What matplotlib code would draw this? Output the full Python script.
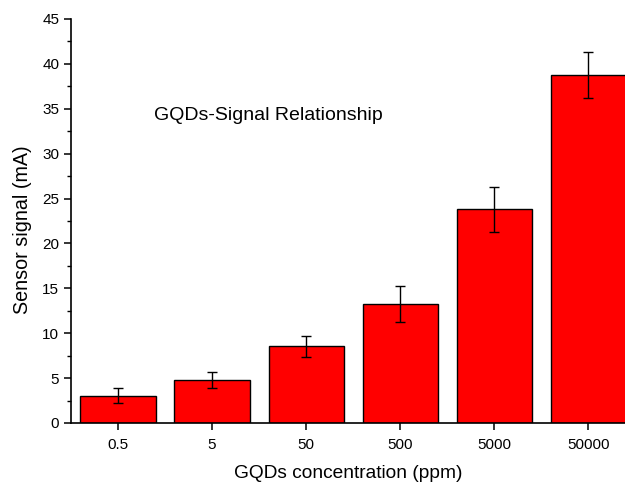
import numpy as np
import matplotlib
matplotlib.use('Agg')
import matplotlib.pyplot as plt
from matplotlib.ticker import MultipleLocator

plt.rcParams['font.family'] = ['Liberation Sans', 'DejaVu Sans']

# Data
concentrations = ['0.5', '5', '50', '500', '5000', '50000']
signal = [3.05, 4.79, 8.54, 13.25, 23.8, 38.75]
signal_err = [0.87, 0.91, 1.2, 2.02, 2.5, 2.54]

fig = plt.figure(figsize=(6.25, 4.88), dpi=100)
ax = fig.add_axes([0.1136, 0.1332, 0.8864, 0.828])

x = np.arange(len(concentrations))
ax.bar(x, signal, width=0.8, color='#ff0000', edgecolor='black', linewidth=1.0,
       yerr=signal_err, error_kw=dict(ecolor='black', elinewidth=1.0, capsize=3.5, capthick=1.0))

ax.set_xlim(-0.5, 5.39)
ax.set_ylim(0, 45)
ax.set_xticks(x)
ax.set_xticklabels(concentrations)
ax.yaxis.set_major_locator(MultipleLocator(5))
ax.yaxis.set_minor_locator(MultipleLocator(2.5))

for side in ['top', 'right']:
  ax.spines[side].set_visible(False)
ax.spines['left'].set_linewidth(1.2)
ax.spines['bottom'].set_linewidth(1.2)

ax.tick_params(axis='both', which='major', direction='out', length=5, width=1.1, labelsize=11, colors='black')
ax.tick_params(axis='y', which='minor', direction='out', length=3, width=1.0)
ax.tick_params(axis='x', which='major', pad=6)

ax.set_xlabel('GQDs concentration (ppm)', fontsize=13.8, labelpad=9)
ax.set_ylabel('Sensor signal (mA)', fontsize=14.2)
ax.yaxis.set_label_coords(-0.07, 0.478)

ax.text(0.38, 34.3, 'GQDs-Signal Relationship', fontsize=14, ha='left', va='center')

fig.savefig('out.png', dpi=100)
